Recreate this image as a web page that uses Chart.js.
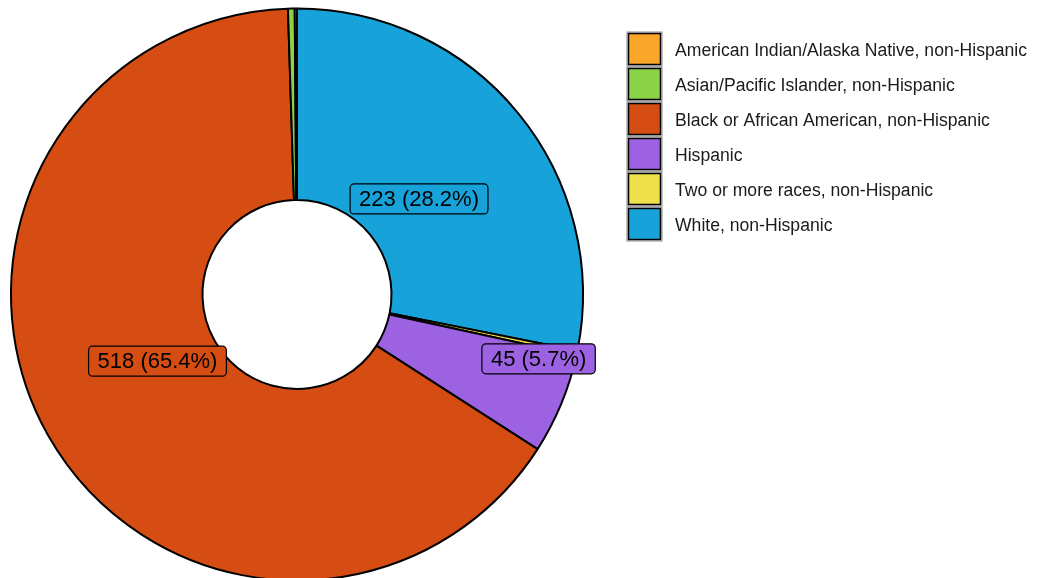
<!DOCTYPE html>
<html>
<head>
<meta charset="utf-8">
<script src="https://cdn.jsdelivr.net/npm/chart.js@4"></script>
<style>
  html, body { margin: 0; padding: 0; background: #fff; overflow: hidden; }
  #wrap { width: 1048px; height: 578px; overflow: hidden; }
</style>
</head>
<body>
<div id="wrap"><canvas id="myChart" width="1048" height="590"></canvas></div>
<script>
// legend order
const categories = [
  'American Indian/Alaska Native, non-Hispanic',
  'Asian/Pacific Islander, non-Hispanic',
  'Black or African American, non-Hispanic',
  'Hispanic',
  'Two or more races, non-Hispanic',
  'White, non-Hispanic'
];
const counts = [1, 3, 518, 45, 2, 223];
const colors = ['#F9A52A', '#8CD248', '#D54D12', '#9D62E1', '#EEE04A', '#17A3D9'];
const labelled = [false, false, true, true, false, true];

// where each value label sits: fraction across the ring, angle nudge in degrees
const labelRing = [0, 0, 0.314, 0.812, 0, 0.316];
const labelShift = [0, 0, 4.0, -7.6, 0, 1.25];

const total = counts.reduce((a, b) => a + b, 0);

// slices go clockwise from the top: White first, legend order reversed
const order = categories.map((c, i) => i).reverse();

function roundRect(ctx, x, y, w, h, r) {
  ctx.beginPath();
  ctx.moveTo(x + r, y);
  ctx.lineTo(x + w - r, y);
  ctx.arcTo(x + w, y, x + w, y + r, r);
  ctx.lineTo(x + w, y + h - r);
  ctx.arcTo(x + w, y + h, x + w - r, y + h, r);
  ctx.lineTo(x + r, y + h);
  ctx.arcTo(x, y + h, x, y + h - r, r);
  ctx.lineTo(x, y + r);
  ctx.arcTo(x, y, x + r, y, r);
  ctx.closePath();
}

const valueLabels = {
  id: 'valueLabels',
  afterDatasetsDraw(chart) {
    const ctx = chart.ctx;
    const arcs = chart.getDatasetMeta(0).data;
    ctx.save();
    ctx.font = '22px "Liberation Sans", Arial, sans-serif';
    ctx.textAlign = 'center';
    ctx.textBaseline = 'middle';
    arcs.forEach((arc, j) => {
      const i = order[j];
      if (!labelled[i]) return;
      const p = arc.getProps(['x', 'y', 'startAngle', 'endAngle', 'innerRadius', 'outerRadius'], true);
      const mid = (p.startAngle + p.endAngle) / 2 + labelShift[i] * Math.PI / 180;
      const r = p.innerRadius + labelRing[i] * (p.outerRadius - p.innerRadius);
      const cx = p.x + Math.cos(mid) * r;
      const cy = p.y + Math.sin(mid) * r;
      const text = counts[i] + ' (' + (counts[i] / total * 100).toFixed(1) + '%)';
      const w = ctx.measureText(text).width + 18;
      const h = 30;
      roundRect(ctx, cx - w / 2, cy - h / 2, w, h, 4);
      ctx.fillStyle = colors[i];
      ctx.fill();
      ctx.lineWidth = 1.2;
      ctx.strokeStyle = '#000';
      ctx.stroke();
      ctx.fillStyle = '#000';
      ctx.fillText(text, cx, cy + 1);
    });
    ctx.restore();
  }
};

const keyLegend = {
  id: 'keyLegend',
  afterDraw(chart) {
    const ctx = chart.ctx;
    ctx.save();
    ctx.font = '17.6px "Liberation Sans", Arial, sans-serif';
    ctx.textBaseline = 'middle';
    categories.forEach((c, i) => {
      const y = 33 + i * 35;
      ctx.strokeStyle = '#8a8a8a';
      ctx.lineWidth = 1;
      ctx.strokeRect(627, y - 1, 35, 34);
      ctx.fillStyle = colors[i];
      ctx.fillRect(628.5, y + 0.5, 32, 31);
      ctx.strokeStyle = '#000';
      ctx.lineWidth = 1.5;
      ctx.strokeRect(628.5, y + 0.5, 32, 31);
      ctx.fillStyle = '#1a1a1a';
      ctx.fillText(c, 675, y + 18);
    });
    ctx.restore();
  }
};

const ctx = document.getElementById('myChart').getContext('2d');
const myChart = new Chart(ctx, {
  type: 'doughnut',
  data: {
    labels: order.map(i => categories[i]),
    datasets: [{
      data: order.map(i => counts[i]),
      backgroundColor: order.map(i => colors[i]),
      borderColor: '#000',
      borderWidth: 2
    }]
  },
  options: {
    responsive: false,
    animation: false,
    cutout: 94.5,
    layout: {
      padding: { left: 10, top: 7.5, right: 464, bottom: 8.5 }
    },
    plugins: {
      legend: { display: false },
      tooltip: { enabled: false }
    }
  },
  plugins: [valueLabels, keyLegend]
});
</script>
</body>
</html>
